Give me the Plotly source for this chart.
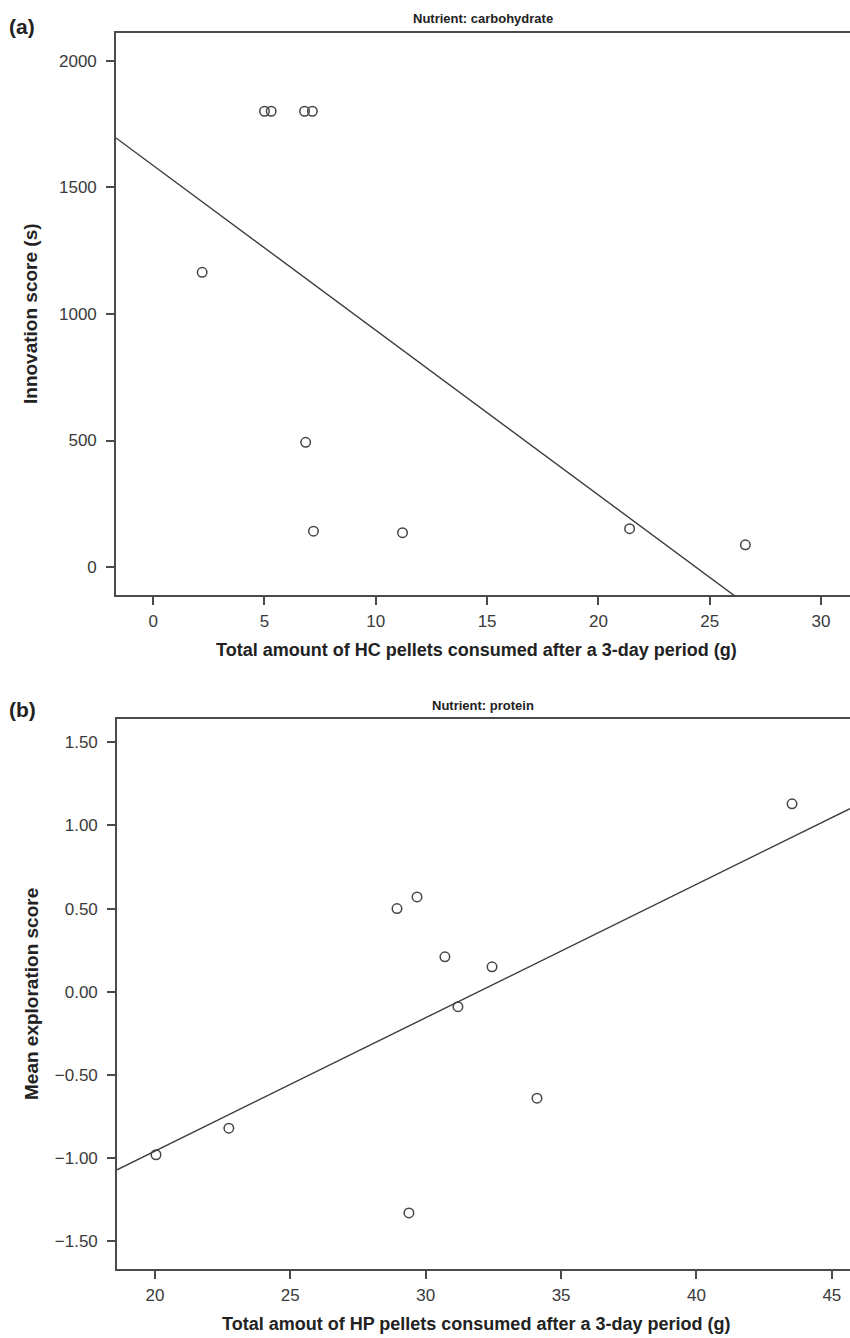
import plotly.graph_objects as go

# ---- data panel (a): carbohydrate ----
hc_x = [5.0, 5.3, 6.8, 7.15, 2.2, 6.85, 7.2, 11.2, 21.4, 26.6]
hc_y = [1800, 1800, 1800, 1800, 1164, 493, 142, 136, 152, 88]
hc_fit = [1586, -65.06]          # intercept, slope
hc_xrange = [-1.67, 31.3]
hc_yrange = [-110, 2109]
hc_yticks = [0, 500, 1000, 1500, 2000]
hc_xticks = [0, 5, 10, 15, 20, 25, 30]

# ---- data panel (b): protein ----
hp_x = [43.53, 28.94, 29.68, 30.71, 32.45, 31.19, 34.11, 22.73, 20.04, 29.38]
hp_y = [1.13, 0.50, 0.57, 0.21, 0.15, -0.09, -0.64, -0.82, -0.98, -1.33]
hp_fit = [-2.562, 0.0802]
hp_xrange = [18.6, 45.67]
hp_yrange = [-1.667, 1.64]
hp_yticks = [-1.5, -1.0, -0.5, 0.0, 0.5, 1.0, 1.5]
hp_xticks = [20, 25, 30, 35, 40, 45]

W, H = 850, 1338
def px(x):
    return x / W
def py(y):
    return 1 - y / H

LINE = "#4a4a4a"
TICKFONT = dict(family="Liberation Sans, Arial", size=17, color="#3a3a3a")

fig = go.Figure()

marker = dict(symbol="circle-open", size=9.5, color="#454545", line=dict(width=1.5, color="#454545"))
fitline = dict(color="#3c3c3c", width=1.4)

fig.add_trace(go.Scatter(x=hc_x, y=hc_y, mode="markers", marker=marker, xaxis="x", yaxis="y", showlegend=False))
fig.add_trace(go.Scatter(x=hc_xrange, y=[hc_fit[0] + hc_fit[1] * v for v in hc_xrange], mode="lines",
                         line=fitline, xaxis="x", yaxis="y", showlegend=False))

fig.add_trace(go.Scatter(x=hp_x, y=hp_y, mode="markers", marker=marker, xaxis="x2", yaxis="y2", showlegend=False))
fig.add_trace(go.Scatter(x=hp_xrange, y=[hp_fit[0] + hp_fit[1] * v for v in hp_xrange], mode="lines",
                         line=fitline, xaxis="x2", yaxis="y2", showlegend=False))

axis_common = dict(showgrid=False, zeroline=False, showline=True, linecolor=LINE, linewidth=1.6,
                   ticks="outside", ticklen=8, tickwidth=1.6, tickcolor=LINE, tickfont=TICKFONT)

fig.update_layout(
    width=W, height=H,
    margin=dict(l=0, r=0, t=0, b=0),
    plot_bgcolor="white", paper_bgcolor="white",
    xaxis=dict(domain=[px(116), 1.0], range=hc_xrange, tickvals=hc_xticks, anchor="y", mirror=True,
               ticklabelstandoff=2, **axis_common),
    yaxis=dict(domain=[py(595), py(33)], range=hc_yrange, tickvals=hc_yticks, tickformat="d", anchor="x",
               ticklabelstandoff=6, **axis_common),
    xaxis2=dict(domain=[px(117), 1.0], range=hp_xrange, tickvals=hp_xticks, anchor="y2", mirror=True,
                ticklabelstandoff=2, **axis_common),
    yaxis2=dict(domain=[py(1269), py(719)], range=hp_yrange, tickvals=hp_yticks, tickformat=".2f", anchor="x2",
                ticklabelstandoff=6, **axis_common),
)

def ann(text, x, y, size, angle=0, color="#222222"):
    fig.add_annotation(text="<b>%s</b>" % text, x=px(x), y=py(y), xref="paper", yref="paper",
                       showarrow=False, textangle=angle, xanchor="center", yanchor="middle",
                       font=dict(family="Liberation Sans, Arial", size=size, color=color))

ann("(a)", 22, 26, 21)
ann("(b)", 22, 709, 21)
ann("Nutrient: carbohydrate", 483, 18, 13)
ann("Nutrient: protein", 483, 705, 13)
ann("Innovation score (s)", 31, 314, 19, angle=-90)
ann("Mean exploration score", 31, 994, 19, angle=-90)
ann("Total amount of HC pellets consumed after a 3-day period (g)", 476, 650, 18)
ann("Total amout of HP pellets consumed after a 3-day period (g)", 476, 1324, 18)

fig.write_html("out.html")
